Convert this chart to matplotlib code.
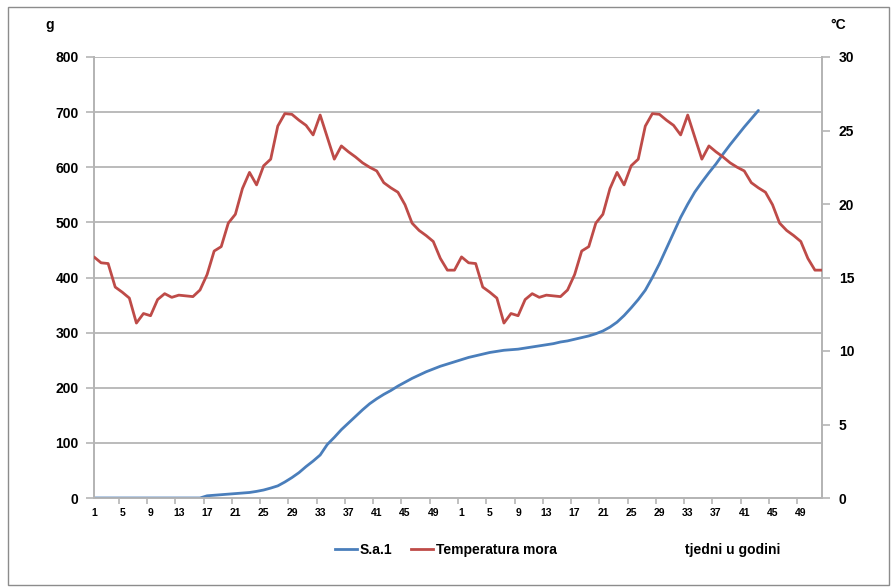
import matplotlib
matplotlib.use("Agg")
import matplotlib.pyplot as plt
from matplotlib.lines import Line2D
from matplotlib.patches import Rectangle

# ---- data ----
week_tick_labels = ["1", "5", "9", "13", "17", "21", "25", "29", "33", "37", "41", "45", "49",
                    "1", "5", "9", "13", "17", "21", "25", "29", "33", "37", "41", "45", "49"]

# S.a.1 growth (g), one value per week starting at week 1 of first year
growth_g = [0, 0, 0, 0, 0, 0, 0, 0, 0, 0, 0, 0, 0, 0, 0, 0,
            4, 5, 6, 7, 8, 9, 10, 12, 14.5, 18, 22, 29, 37, 46, 57, 67, 78,
            97, 110, 124, 136, 148, 160, 171, 180, 188, 195, 203, 210, 217, 223,
            229, 234, 239, 243, 247,
            251, 255, 258, 261, 264, 266, 268, 269, 270, 272, 274, 276, 278, 280,
            283, 285, 288, 291, 294, 298, 303, 310, 319, 331, 345, 360, 377, 400,
            425, 453, 481, 509, 533, 555, 573, 590, 606, 624, 641, 657, 673, 688, 703]

# Sea temperature (°C), weekly, two years
temp_year1 = [16.4, 16.0, 15.95, 14.35, 14.0, 13.6, 11.9, 12.55, 12.4, 13.5, 13.9, 13.65,
              13.8, 13.75, 13.7, 14.15, 15.2, 16.8, 17.1, 18.7, 19.3, 21.05, 22.15, 21.3,
              22.6, 23.05, 25.3, 26.15, 26.1, 25.7, 25.35, 24.7, 26.05, 24.55, 23.05, 23.95,
              23.55, 23.2, 22.8, 22.5, 22.25, 21.45, 21.1, 20.8, 19.95, 18.7, 18.2, 17.85,
              17.45, 16.3, 15.5, 15.5]
temp_year2 = [16.4, 16.0, 15.95, 14.35, 14.0, 13.6, 11.9, 12.55, 12.4, 13.5, 13.9, 13.65,
              13.8, 13.75, 13.7, 14.15, 15.2, 16.8, 17.1, 18.7, 19.3, 21.05, 22.15, 21.3,
              22.6, 23.05, 25.3, 26.15, 26.1, 25.7, 25.35, 24.7, 26.05, 24.55, 23.05, 23.95,
              23.55, 23.2, 22.8, 22.5, 22.25, 21.45, 21.1, 20.8, 19.95, 18.7, 18.2, 17.85,
              17.45, 16.3, 15.5, 15.5]

series_names = ["S.a.1", "Temperatura mora"]
x_axis_title = "tjedni u godini"

# ---- styling ----
plt.rcParams['font.family'] = ['Liberation Sans', 'DejaVu Sans']
BLUE = "#4a7ebb"
RED = "#be4b48"
GRID = "#b5b5b5"

W, H = 892, 588
fig = plt.figure(figsize=(W / 100, H / 100), dpi=100)
fig.patch.set_facecolor("white")

left, right, top, bottom = 94, 822, 57, 498
ax = fig.add_axes([left / W, 1 - bottom / H, (right - left) / W, (bottom - top) / H])

temps = temp_year1 + temp_year2
xt = list(range(len(temps)))
xg = list(range(len(growth_g)))

ax.plot(xg, growth_g, color=BLUE, lw=2.0, solid_capstyle="round", zorder=3)
ax.set_ylim(0, 800)
ax.set_yticks(range(0, 801, 100))
ax.set_xlim(0, len(temps) - 1)

ax2 = ax.twinx()
ax2.plot(xt, temps, color=RED, lw=2.0, solid_capstyle="round", zorder=3)
ax2.set_ylim(0, 30)
ax2.set_yticks(range(0, 31, 5))

# grid
ax.grid(axis="y", color=GRID, lw=1.3)
ax.set_axisbelow(True)

# x ticks
major_pos = [i for i in range(len(temps)) if (i % 52) % 4 == 0 and (i % 52) <= 48]
ax.set_xticks(major_pos)
ax.set_xticklabels(week_tick_labels)
ax.set_xticks([p - 0.5 for p in major_pos if p > 0], minor=True)
ax.tick_params(axis="x", which="major", length=0, pad=7, labelsize=7.5)
ax.tick_params(axis="x", which="minor", length=4, color=GRID, width=1.2)
for lab in ax.get_xticklabels():
    lab.set_fontweight("bold")

ax.tick_params(axis="y", length=6, color=GRID, width=1.2, pad=5, labelsize=10)
ax2.tick_params(axis="y", length=6, color=GRID, width=1.2, pad=6, labelsize=10)
for lab in ax.get_yticklabels() + ax2.get_yticklabels():
    lab.set_fontweight("bold")

for a in (ax, ax2):
    a.spines["top"].set_visible(False)
    for s in ("left", "right", "bottom"):
        a.spines[s].set_color(GRID)
        a.spines[s].set_linewidth(1.3)

fig.text(50 / W, 1 - 25 / H, "g", ha="center", va="center", fontsize=10, fontweight="bold")
fig.text(838 / W, 1 - 25 / H, "°C", ha="center", va="center", fontsize=10, fontweight="bold")

handles = [Line2D([], [], color=BLUE, lw=2.0), Line2D([], [], color=RED, lw=2.0)]
fig.legend(handles, series_names, loc="center left",
           bbox_to_anchor=(335 / W, 1 - 550 / H), ncol=2, frameon=False,
           handlelength=1.6, handletextpad=0.2, columnspacing=1.3,
           borderpad=0, borderaxespad=0,
           prop={"weight": "bold", "size": 10})
fig.text(685 / W, 1 - 550 / H, x_axis_title, ha="left", va="center",
         fontsize=10, fontweight="bold")

fig.patches.append(Rectangle((8 / W, 3 / H), 881 / W, 578 / H, transform=fig.transFigure,
                             fill=False, edgecolor="#8c8c8c", lw=1.0))

fig.savefig("out.png", dpi=100)
